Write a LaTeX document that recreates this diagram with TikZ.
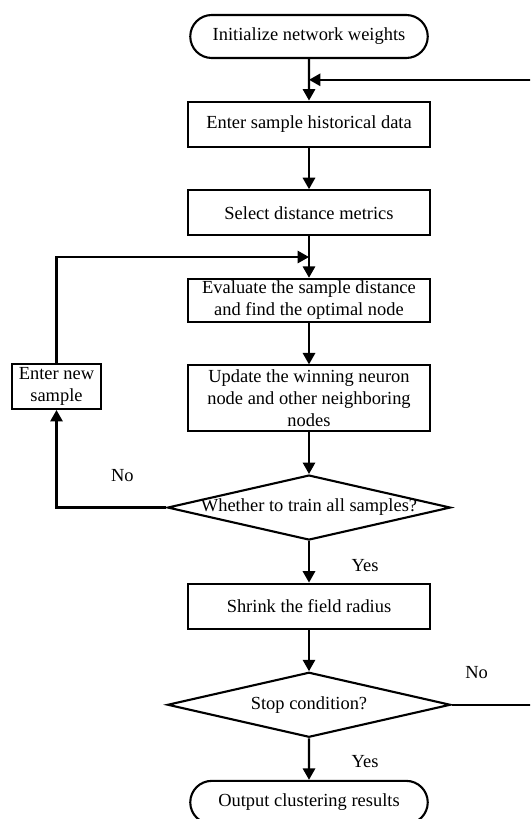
\documentclass[tikz,border=0pt]{standalone}
\usepackage{fontspec}
\setmainfont{Liberation Serif}
\usepackage{tikz}
\usetikzlibrary{arrows.meta,positioning,calc,shapes.geometric,shapes.misc}
\tikzset{
  termbox/.style={draw, line width=1.2pt, rounded rectangle, minimum width=4.82cm,
    minimum height=0.86cm, inner sep=1pt, align=center, font=\flowfont},
  procbox/.style={draw, line width=1.2pt, rectangle, minimum width=4.84cm,
    minimum height=#1, inner xsep=2pt, inner ysep=0.5pt, align=center, font=\flowfont},
  procbox/.default={0.9cm},
  decbox/.style={draw, line width=1.2pt, diamond, minimum width=5.66cm, minimum height=1.3cm,
    aspect=4.35, inner xsep=-6pt, inner ysep=0pt, align=center, font=\flowfont},
  lbl/.style={inner sep=0pt, font=\flowfont},
  flowarr/.style={-{Triangle[length=6.5pt,width=7pt]}, line width=1.2pt},
  node distance=0.83cm,
}
\newcommand{\flowfont}{\fontsize{10.5}{12.5}\selectfont}

\begin{document}
\begin{tikzpicture}
  \clip (0,0) rectangle (10.6,-16.38);
  \node[termbox] (init) at (6.18,-0.73) {Initialize network weights};
  \node[procbox, below=of init] (hist) {Enter sample historical data};
  \node[procbox, below=of hist] (metric) {Select distance metrics};
  \node[procbox=0.86cm, below=of metric] (evalnd) {Evaluate the sample distance\\and find the optimal node};
  \node[procbox=1.32cm, below=of evalnd] (update) {Update the winning neuron\\node and other neighboring\\nodes};
  \node[decbox, below=of update] (train) {Whether to train all samples?};
  \node[procbox, below=of train] (shrink) {Shrink the field radius};
  \node[decbox, below=of shrink] (stop) {Stop condition?};
  \node[termbox, below=of stop] (output) {Output clustering results};
  \node[procbox, minimum width=1.78cm] (newsmp) at (1.13,-7.73) {Enter new\\sample};

  \coordinate (merge1) at ($(init.south)!0.5!(hist.north)$);
  \coordinate (merge2) at ($(metric.south)!0.5!(evalnd.north)$);
  \coordinate (loopR) at (11.2,0);

  \draw[flowarr] (init) -- (hist);
  \draw[flowarr] (hist) -- (metric);
  \draw[flowarr] (metric) -- (evalnd);
  \draw[flowarr] (evalnd) -- (update);
  \draw[flowarr] (update) -- (train);
  \draw[flowarr] (train) -- (shrink);
  \draw[flowarr] (shrink) -- (stop);
  \draw[flowarr] (stop) -- (output);
  \draw[flowarr] (train.west) -| (newsmp.south);
  \draw[flowarr] (newsmp.north) |- (merge2);
  \draw[flowarr] (stop.east) -- (stop.east -| loopR) -- (merge1 -| loopR) -- (merge1);

  \node[lbl] (no1) at ($(train.west)+(-0.88,0.64)$) {No};
  \node[lbl] (yes1) at ($(train.south)+(1.12,-0.48)$) {Yes};
  \node[lbl] (no2) at ($(stop.east)+(0.5,0.65)$) {No};
  \node[lbl] (yes2) at ($(stop.south)+(1.12,-0.46)$) {Yes};
\end{tikzpicture}
\end{document}
